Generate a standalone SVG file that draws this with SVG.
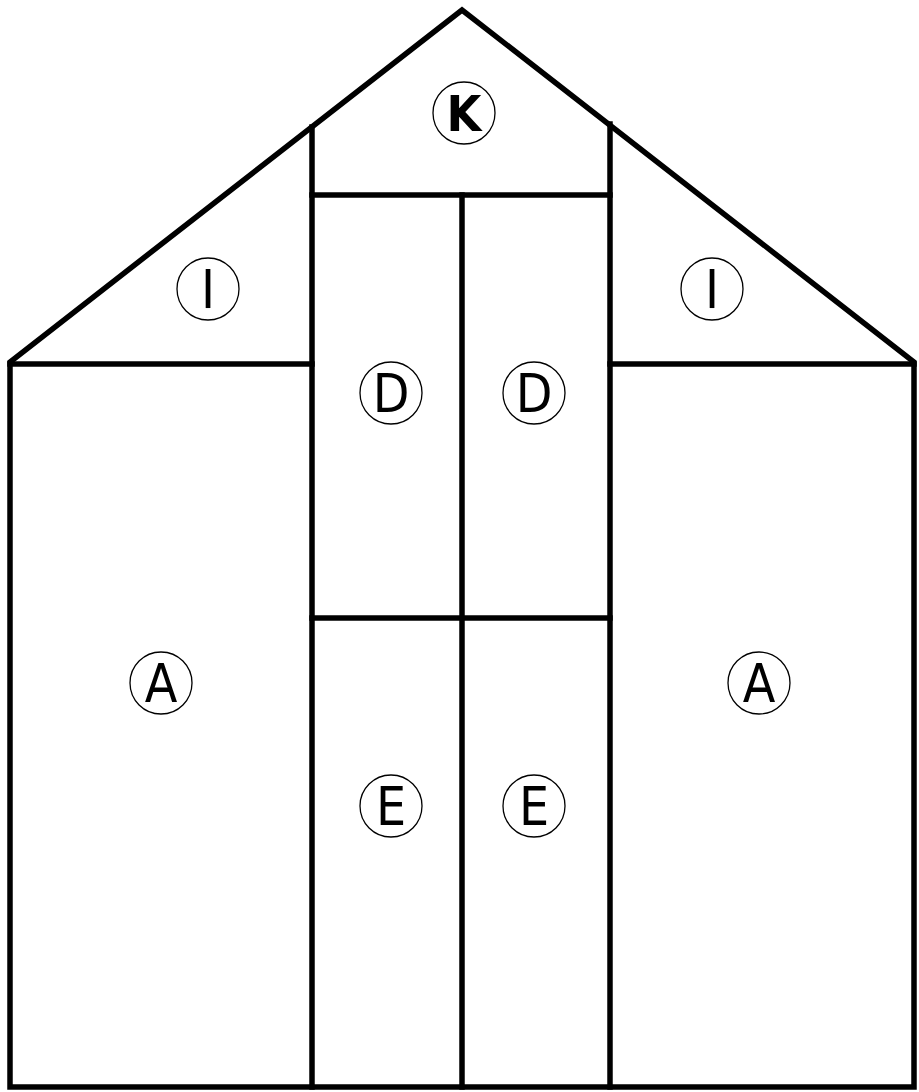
<svg xmlns="http://www.w3.org/2000/svg" width="919" height="1092" viewBox="0 0 919 1092">
<style>
.ln{fill:none;stroke:#000;stroke-width:5.5;stroke-linejoin:miter;stroke-linecap:square}
.c{fill:#fff;stroke:#000;stroke-width:1.3}
.t{font-family:"DejaVu Sans Condensed","DejaVu Sans",sans-serif;font-stretch:condensed;font-size:53px;fill:#000;text-anchor:middle}
.b{font-weight:bold;font-size:50px}
</style>
<rect width="919" height="1092" fill="#fff"/>
<g id="structure">
<polygon class="ln" points="10,1087 10,362 462,10 914,362 914,1087"/>
<line class="ln" x1="10" y1="364" x2="312" y2="364"/>
<line class="ln" x1="610" y1="364" x2="914" y2="364"/>
<line class="ln" x1="312" y1="127" x2="312" y2="1087"/>
<line class="ln" x1="610" y1="124" x2="610" y2="1087"/>
<line class="ln" x1="312" y1="195" x2="610" y2="195"/>
<line class="ln" x1="462" y1="195" x2="462" y2="1087"/>
<line class="ln" x1="312" y1="618" x2="610" y2="618"/>
</g>
<g id="K"><circle class="c" cx="464" cy="113" r="31"/><text class="t b" x="464" y="131">K</text></g>
<g id="I1"><circle class="c" cx="208" cy="289" r="31"/><text class="t" x="208" y="308">I</text></g>
<g id="I2"><circle class="c" cx="712" cy="289" r="31"/><text class="t" x="712" y="308">I</text></g>
<g id="D1"><circle class="c" cx="391" cy="393" r="31"/><text class="t" x="391" y="412">D</text></g>
<g id="D2"><circle class="c" cx="534" cy="393" r="31"/><text class="t" x="534" y="412">D</text></g>
<g id="A1"><circle class="c" cx="161" cy="683" r="31"/><text class="t" x="161" y="702">A</text></g>
<g id="A2"><circle class="c" cx="759" cy="683" r="31"/><text class="t" x="759" y="702">A</text></g>
<g id="E1"><circle class="c" cx="391" cy="806" r="31"/><text class="t" x="391" y="825">E</text></g>
<g id="E2"><circle class="c" cx="534" cy="806" r="31"/><text class="t" x="534" y="825">E</text></g>
</svg>
